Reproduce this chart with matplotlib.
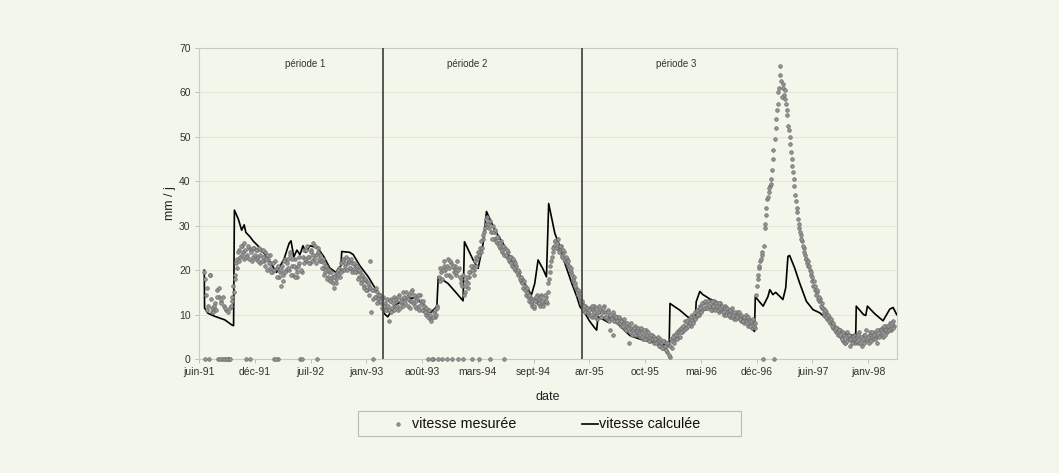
import numpy as np
import matplotlib.pyplot as plt
import matplotlib.dates as mdates
from matplotlib.ticker import FuncFormatter
from matplotlib.lines import Line2D
from matplotlib.patches import Rectangle

plt.rcParams['font.family'] = ['Liberation Sans', 'DejaVu Sans']

# vitesse mesurée (mm/j) : deux séries de relevés tous les 5 jours, décalées de 2 jours
pas_mesures = 5
debut_mesures_a = '1991-06-29'
vitesse_mesuree_a = [
    19.5, 0, 16.0, 12.0, 19.0, 13.5, 10.5, 11.5, 12.5, 15.5, 0, 14.0,
    13.0, 0, 12.0, 0, 11.0, 0, 0, 11.5, 14.0, 16.5, 19.0, 21.5,
    22.5, 24.5, 23.0, 25.5, 24.0, 26.0, 0, 23.5, 25.0, 0, 24.5, 23.0,
    25.0, 22.5, 24.5, 23.0, 21.5, 24.5, 23.0, 22.0, 24.0, 20.0, 22.5, 23.5,
    21.5, 19.5, 0, 22.0, 20.5, 0, 18.5, 16.5, 21.0, 19.0, 22.5, 20.0,
    22.5, 20.0, 24.0, 21.0, 19.0, 22.5, 20.5, 18.5, 21.5, 0, 19.5, 23.0,
    24.5, 22.0, 25.5, 23.0, 21.5, 24.5, 26.0, 22.5, 23.5, 0, 25.0, 22.0,
    22.0, 20.5, 21.5, 19.5, 20.5, 18.5, 19.5, 17.5, 18.5, 16.0, 19.0, 18.0,
    19.0, 20.5, 21.5, 20.0, 22.5, 21.0, 23.0, 21.5, 22.0, 20.5, 21.5, 20.0,
    21.0, 19.5, 20.5, 18.5, 19.5, 17.5, 18.5, 16.5, 17.5, 15.5, 16.5, 22.0,
    10.5, 0, 15.5, 14.0, 15.0, 13.5, 14.5, 12.5, 13.5, 11.5, 12.5, 11.0,
    12.0, 8.5, 13.5, 11.5, 14.0, 12.0, 13.0, 11.0, 14.5, 12.5, 13.5, 15.0,
    13.5, 15.0, 12.0, 14.5, 13.0, 15.5, 12.5, 14.0, 11.5, 13.5, 12.0, 14.5,
    12.5, 11.0, 12.0, 10.0, 10.5, 0, 9.0, 8.5, 0, 10.5, 9.5, 12.0,
    0, 17.5, 19.5, 0, 21.0, 20.0, 0, 22.5, 19.0, 21.5, 0, 20.5,
    21.0, 19.0, 0, 20.5, 18.0, 16.5, 0, 15.0, 17.5, 16.0, 18.5, 19.5,
    0, 21.0, 20.0, 23.0, 22.5, 0, 25.0, 24.0, 27.0, 28.5, 30.5, 32.0,
    30.5, 0, 28.5, 30.0, 27.0, 28.5, 26.0, 27.5, 25.0, 26.5, 24.0, 0,
    25.0, 23.0, 24.0, 22.0, 23.0, 21.0, 22.0, 20.0, 21.0, 19.0, 19.5, 17.5,
    18.0, 16.0, 16.5, 14.5, 15.0, 13.0, 14.0, 12.0, 13.5, 11.5, 13.0, 14.5,
    13.5, 12.0, 14.5, 12.5, 13.0, 14.0, 12.5, 17.0, 19.5, 22.0, 24.0, 25.5,
    26.5, 25.0, 27.0, 24.5, 25.5, 23.5, 24.0, 22.0, 22.5, 21.0, 21.0, 19.5,
    19.0, 17.5, 17.0, 16.0, 14.5, 15.0, 13.5, 12.5, 11.0, 12.0, 10.5, 11.5,
    10.0, 11.5, 9.5, 11.0, 12.0, 10.0, 9.0, 10.5, 11.0, 9.5, 10.5, 12.0,
    10.5, 9.0, 11.0, 6.5, 9.5, 5.5, 10.0, 8.5, 9.5, 8.0, 9.0, 7.5,
    8.5, 7.0, 8.0, 6.5, 7.5, 3.5, 7.0, 5.5, 6.5, 7.5, 6.0, 5.5,
    6.5, 5.0, 6.0, 4.5, 5.5, 6.5, 4.5, 5.0, 4.0, 5.5, 4.5, 3.5,
    4.5, 3.5, 4.0, 3.0, 3.5, 2.5, 4.0, 3.0, 1.5, 3.5, 0.5, 4.5,
    4.0, 5.5, 4.5, 6.0, 5.0, 6.5, 7.0, 6.0, 7.5, 8.5, 7.0, 8.0,
    9.0, 7.5, 10.0, 8.5, 10.5, 9.5, 11.0, 10.0, 12.0, 11.0, 12.5, 11.5,
    12.5, 11.5, 13.0, 12.0, 11.0, 12.5, 13.0, 11.5, 12.0, 10.5, 12.5, 11.0,
    11.5, 10.0, 12.0, 10.5, 11.0, 9.5, 10.5, 11.5, 9.0, 10.0, 10.5, 9.5,
    10.0, 8.5, 9.5, 8.0, 9.0, 10.0, 7.5, 9.0, 8.0, 7.0, 8.5, 7.0,
    14.5, 18.0, 20.5, 22.0, 23.5, 0, 29.5, 32.5, 36.0, 37.5, 39.0, 40.5,
    45.0, 0, 52.0, 56.0, 60.0, 66.0, 62.5, 61.0, 59.5, 60.5, 56.0, 52.5,
    50.0, 46.5, 43.5, 40.5, 37.0, 34.0, 31.5, 29.5, 28.0, 26.5, 25.0, 23.5,
    22.5, 21.0, 21.0, 19.0, 18.5, 16.5, 16.5, 14.5, 15.0, 13.0, 13.5, 11.5,
    11.5, 10.0, 10.5, 9.0, 9.5, 8.0, 8.5, 7.0, 7.5, 6.0, 7.0, 5.5,
    6.5, 5.0, 4.0, 5.5, 3.5, 6.0, 4.5, 3.0, 5.0, 4.0, 5.5, 3.5,
    5.0, 3.5, 6.0, 4.5, 3.0, 5.5, 4.0, 6.5, 4.5, 3.5, 5.5, 5.0,
    4.5, 6.0, 5.0, 3.5, 6.5, 5.5, 7.0, 5.0, 6.5, 7.5, 6.0, 7.0,
    8.0, 6.5, 8.5, 7.5,
]
debut_mesures_b = '1991-07-01'
vitesse_mesuree_b = [
    18.0, 14.5, 11.0, 0, 19.0, 11.5, 10.5, 12.0, 11.0, 14.0, 16.0, 0,
    12.5, 14.0, 0, 11.5, 0, 10.5, 0, 12.0, 13.0, 15.0, 18.0, 20.5,
    24.0, 22.0, 25.5, 23.5, 22.5, 24.5, 23.0, 25.5, 22.5, 24.0, 22.0, 25.0,
    23.5, 24.5, 22.0, 25.0, 23.5, 22.0, 24.5, 21.0, 22.5, 23.5, 21.5, 20.5,
    19.5, 21.5, 20.0, 0, 18.5, 21.0, 19.5, 20.0, 17.5, 22.0, 19.5, 21.5,
    20.5, 23.5, 19.0, 22.5, 21.0, 18.5, 19.5, 21.0, 23.0, 20.0, 0, 21.5,
    22.5, 24.5, 23.0, 21.5, 24.0, 22.0, 23.5, 25.5, 21.5, 24.0, 22.5, 23.5,
    20.5, 22.5, 19.0, 21.0, 18.0, 20.0, 17.5, 19.5, 17.0, 18.5, 17.0, 19.5,
    20.0, 18.5, 19.5, 22.0, 20.0, 21.5, 20.0, 22.5, 20.5, 22.5, 19.5, 21.5,
    19.5, 21.0, 18.0, 20.0, 17.0, 19.0, 16.0, 18.0, 15.5, 17.0, 14.5, 16.0,
    15.5, 13.5, 14.0, 16.0, 12.5, 14.5, 13.0, 11.5, 14.0, 12.0, 11.0, 13.5,
    11.0, 13.0, 10.5, 12.5, 11.0, 13.5, 12.0, 14.0, 11.5, 13.0, 12.0, 14.0,
    12.5, 14.0, 13.5, 11.5, 15.0, 13.0, 14.5, 12.0, 13.0, 14.5, 11.0, 13.0,
    11.0, 13.0, 10.5, 11.5, 9.5, 11.0, 10.0, 0, 9.5, 11.0, 10.0, 11.5,
    18.5, 20.5, 18.0, 20.0, 22.0, 19.0, 21.0, 20.5, 22.0, 18.5, 21.0, 19.5,
    19.5, 22.0, 20.0, 18.5, 17.0, 19.0, 14.5, 16.5, 18.5, 17.0, 19.5, 21.0,
    20.0, 19.0, 22.0, 21.0, 24.0, 23.5, 26.5, 25.0, 28.0, 29.5, 31.5, 30.5,
    29.5, 31.0, 27.0, 28.5, 29.0, 26.5, 27.5, 25.5, 26.0, 24.5, 25.5, 23.5,
    23.5, 24.5, 22.5, 23.0, 21.5, 22.5, 20.5, 21.5, 19.5, 20.0, 18.0, 18.5,
    17.0, 17.5, 15.5, 16.0, 14.0, 14.5, 12.5, 13.0, 12.0, 13.0, 14.0, 12.5,
    12.5, 14.0, 13.0, 12.0, 14.5, 13.0, 15.0, 18.0, 21.0, 23.0, 25.0, 26.5,
    25.0, 26.0, 24.0, 25.5, 23.0, 24.5, 22.5, 23.0, 21.5, 22.0, 20.0, 20.5,
    18.0, 18.5, 16.5, 15.5, 15.5, 14.0, 12.5, 13.0, 12.0, 10.5, 11.5, 10.5,
    11.0, 10.0, 12.0, 10.5, 9.5, 11.5, 10.5, 12.0, 9.5, 10.5, 11.5, 9.5,
    9.5, 10.5, 8.5, 10.0, 9.0, 10.5, 8.5, 9.5, 8.5, 9.5, 8.0, 8.5,
    7.5, 9.0, 6.5, 8.0, 7.0, 6.0, 8.0, 6.5, 7.0, 5.5, 6.5, 7.0,
    5.5, 7.0, 5.0, 6.5, 4.5, 5.5, 6.0, 4.0, 5.5, 4.5, 5.0, 4.5,
    3.5, 5.0, 3.0, 4.5, 2.5, 4.0, 3.0, 2.0, 3.5, 1.0, 3.0, 2.5,
    5.0, 3.5, 5.5, 4.5, 6.0, 5.0, 6.0, 7.5, 6.5, 7.0, 8.5, 7.5,
    8.0, 9.5, 8.0, 9.5, 9.0, 11.0, 10.0, 11.5, 10.5, 12.5, 11.5, 13.0,
    11.5, 13.0, 12.0, 11.0, 13.0, 12.0, 11.0, 12.5, 11.0, 12.5, 11.5, 12.0,
    10.5, 11.5, 10.0, 11.5, 10.0, 11.0, 9.5, 10.0, 10.5, 9.0, 9.5, 10.5,
    9.0, 10.0, 8.5, 9.5, 8.5, 8.0, 9.5, 7.5, 8.5, 9.0, 7.5, 8.0,
    16.5, 19.0, 21.0, 22.5, 24.0, 25.5, 30.5, 34.0, 36.5, 38.5, 39.5, 42.5,
    47.0, 49.5, 54.0, 57.5, 61.0, 64.0, 59.0, 62.0, 58.5, 57.5, 55.0, 51.5,
    48.5, 45.0, 42.0, 39.0, 35.5, 33.0, 30.5, 28.5, 27.0, 25.5, 24.0, 22.5,
    21.5, 22.0, 20.0, 19.5, 17.5, 17.5, 15.5, 15.5, 13.5, 14.0, 12.0, 12.5,
    10.5, 11.0, 9.5, 10.0, 8.5, 9.0, 7.5, 8.0, 6.5, 7.0, 6.0, 6.5,
    5.5, 4.5, 6.0, 3.5, 5.0, 4.0, 5.5, 4.5, 3.5, 5.0, 4.5, 4.0,
    4.0, 5.5, 3.5, 5.0, 4.5, 3.5, 5.5, 4.5, 5.0, 6.0, 4.0, 6.0,
    5.5, 4.5, 6.5, 5.5, 5.0, 6.5, 6.0, 7.5, 5.5, 6.5, 7.5, 6.5,
    7.0, 8.0, 7.0,
]

# vitesse calculée (mm/j)
dates_calc = [
    '1991-06-30', '1991-07-01', '1991-07-13', '1991-08-07', '1991-09-12', '1991-10-06',
    '1991-10-13', '1991-10-16', '1991-10-30', '1991-11-11', '1991-11-20', '1991-11-26',
    '1991-12-11', '1991-12-23', '1992-01-08', '1992-02-03', '1992-02-24', '1992-03-15',
    '1992-03-24', '1992-04-11', '1992-04-29', '1992-05-06', '1992-05-16', '1992-05-27',
    '1992-06-07', '1992-06-18', '1992-06-28', '1992-07-13', '1992-08-10', '1992-09-01',
    '1992-09-22', '1992-10-14', '1992-11-01', '1992-11-04', '1992-12-03', '1992-12-15',
    '1993-01-08', '1993-02-07', '1993-03-03', '1993-03-27', '1993-04-04', '1993-04-18',
    '1993-05-13', '1993-06-18', '1993-07-24', '1993-08-29', '1993-09-19', '1993-10-11',
    '1993-10-16', '1993-11-20', '1993-12-18', '1994-01-13', '1994-01-18', '1994-02-18',
    '1994-03-08', '1994-03-26', '1994-04-07', '1994-05-07', '1994-06-12', '1994-07-11',
    '1994-08-11', '1994-09-15', '1994-09-27', '1994-10-09', '1994-10-27', '1994-11-08',
    '1994-11-16', '1994-12-08', '1994-12-26', '1995-01-16', '1995-02-07', '1995-02-25',
    '1995-03-08', '1995-03-25', '1995-04-12', '1995-04-30', '1995-05-07', '1995-05-12',
    '1995-06-05', '1995-06-16', '1995-06-23', '1995-07-29', '1995-09-03', '1995-10-08',
    '1995-11-21', '1995-12-26', '1996-01-22', '1996-01-25', '1996-02-29', '1996-03-30',
    '1996-04-25', '1996-04-28', '1996-05-11', '1996-05-22', '1996-06-04', '1996-06-16',
    '1996-07-10', '1996-08-09', '1996-09-14', '1996-10-20', '1996-11-23', '1996-11-26',
    '1996-12-24', '1997-01-10', '1997-01-17', '1997-01-28', '1997-02-07', '1997-03-05',
    '1997-03-15', '1997-03-23', '1997-03-29', '1997-04-16', '1997-05-04', '1997-05-28',
    '1997-06-21', '1997-07-15', '1997-08-13', '1997-09-24', '1997-10-30', '1997-11-21',
    '1997-11-23', '1997-12-19', '1997-12-27', '1998-01-02', '1998-01-28', '1998-02-27',
    '1998-03-23', '1998-04-04', '1998-04-17',
]
vitesse_calc = [
    20.0, 11.5, 10.3, 9.6, 8.8, 7.7,
    7.5, 33.5, 31.5, 29.0, 30.2, 28.5,
    27.5, 26.5, 25.5, 23.5, 21.5, 19.5,
    20.5, 22.5, 26.0, 26.6, 23.0, 24.5,
    23.5, 25.5, 24.0, 25.5, 25.0, 23.0,
    20.5, 19.5, 21.0, 24.2, 24.0, 23.5,
    21.0, 18.5, 16.0, 13.7, 10.3, 9.5,
    12.0, 13.5, 13.8, 12.0, 10.5, 11.8,
    18.5, 17.0, 15.0, 13.1, 26.4, 22.3,
    20.4, 26.0, 33.2, 29.0, 25.3, 21.2,
    18.2, 14.4, 17.0, 22.3, 20.2, 18.5,
    35.0, 28.3, 25.3, 21.0, 17.0, 14.0,
    11.8, 10.4, 8.5, 7.0, 6.5, 9.5,
    8.7, 8.3, 10.0, 7.5, 5.3, 4.5,
    3.8, 3.3, 3.0, 12.5, 11.0, 9.4,
    9.0, 12.9, 15.2, 14.5, 14.0, 13.5,
    12.9, 11.5, 10.0, 8.5, 6.2, 14.0,
    11.9, 14.0, 15.6, 14.5, 15.0, 13.4,
    16.0, 23.1, 23.3, 20.5, 17.1, 13.0,
    11.1, 10.4, 8.8, 6.2, 5.5, 5.1,
    11.9, 10.0, 9.8, 11.9, 10.2, 8.6,
    11.2, 11.6, 10.0,
]

limites_periodes = ['1993-04-01', '1995-03-15']
noms_periodes = ['période 1', 'période 2', 'période 3']
dates_noms_periodes = ['1992-06-25', '1994-01-26', '1996-02-15']

# graduations : une tous les 200 jours
debut_axe = np.datetime64('1991-06-11')
fin_axe = np.datetime64('1998-04-18')
pas_graduations = 200
mois_fr = ['janv', 'févr', 'mars', 'avr', 'mai', 'juin',
           'juil', 'août', 'sept', 'oct', 'nov', 'déc']

fond = '#f3f6ea'
gris_pt = '#969696'
bord_pt = '#6a6a6a'


def dates_releves(debut, valeurs):
    d = np.datetime64(debut) + np.arange(len(valeurs)) * pas_mesures
    return d.astype('datetime64[D]').astype(object)


dates_c = np.array(dates_calc, dtype='datetime64[D]').astype(object)

fig = plt.figure(figsize=(10.59, 4.73), dpi=100, facecolor=fond)
ax = fig.add_axes([0.1879, 0.2410, 0.6591, 0.6575])
ax.set_facecolor(fond)

ax.plot(dates_c, vitesse_calc, color='black', lw=1.2, zorder=3)
for debut, vals in [(debut_mesures_a, vitesse_mesuree_a), (debut_mesures_b, vitesse_mesuree_b)]:
    ax.plot(dates_releves(debut, vals), vals, linestyle='none', marker='o', ms=2.6,
            mfc=gris_pt, mec=bord_pt, mew=0.5, zorder=4, clip_on=False)

for d in limites_periodes:
    ax.axvline(np.datetime64(d).astype(object), ymin=0, ymax=1,
               color='#4a4a4a', lw=1.3, zorder=5)
for nom, d in zip(noms_periodes, dates_noms_periodes):
    ax.text(np.datetime64(d).astype(object), 66.4, nom, ha='center', va='center',
            fontsize=7, color='#333333')

ax.set_ylim(0, 70)
ax.set_yticks(range(0, 71, 10))
ax.set_xlim(debut_axe.astype(object), fin_axe.astype(object))
graduations = np.arange(debut_axe, fin_axe, pas_graduations).astype(object)
ax.set_xticks(graduations)


def etiquette(x, pos):
    d = mdates.num2date(x)
    return '%s-%02d' % (mois_fr[d.month - 1], d.year % 100)


ax.xaxis.set_major_formatter(FuncFormatter(etiquette))

ax.yaxis.grid(True, color='#e2e6d4', lw=0.8)
ax.set_axisbelow(True)
for s in ax.spines.values():
    s.set_color('#c9ccc0')
    s.set_linewidth(0.8)
ax.tick_params(axis='both', direction='out', length=3, width=0.6,
               color='#b5b8ad', labelsize=7.5, labelcolor='#333333', pad=3)

ax.set_xlabel('date', fontsize=9, color='#222222', labelpad=10)
ax.set_ylabel('mm / j', fontsize=9, color='#222222', labelpad=2)

# légende dessinée à la main, en pixels de la figure
W, H = 1059, 473
def fx(px):
    return px / W
def fy(py):
    return 1 - py / H

fig.add_artist(Rectangle((fx(358), fy(436)), fx(741) - fx(358), fy(411) - fy(436),
                         transform=fig.transFigure, facecolor=fond,
                         edgecolor='#b9bcb1', lw=0.8))
fig.add_artist(Line2D([fx(398)], [fy(423.5)], transform=fig.transFigure, linestyle='none',
                      marker='o', ms=2.5, mfc=gris_pt, mec=bord_pt, mew=0.5))
fig.text(fx(412), fy(423.5), 'vitesse mesurée', fontsize=10.3, va='center', ha='left',
         color='#111111')
fig.add_artist(Line2D([fx(582), fx(598)], [fy(423.5), fy(423.5)], transform=fig.transFigure,
                      color='black', lw=1.2))
fig.text(fx(599), fy(423.5), 'vitesse calculée', fontsize=10.3, va='center', ha='left',
         color='#111111')

fig.savefig('out.png', dpi=100, facecolor=fond)
